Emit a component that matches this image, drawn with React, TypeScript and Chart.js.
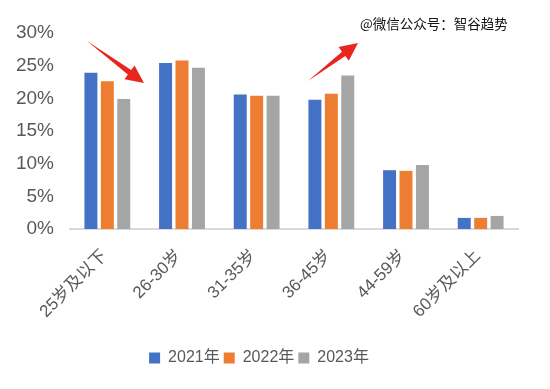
import React, { useEffect, useRef } from "react";
import { Chart, registerables } from "chart.js";

Chart.register(...registerables);

const categories = ["25岁及以下", "26-30岁", "31-35岁", "36-45岁", "44-59岁", "60岁及以上"];
const seriesLabels = ["2021年", "2022年", "2023年"];
const values2021 = [23.9, 25.4, 20.6, 19.8, 9.0, 1.7];
const values2022 = [22.6, 25.8, 20.4, 20.7, 8.9, 1.7];
const values2023 = [19.9, 24.7, 20.4, 23.5, 9.8, 2.0];
const seriesColors = ["#4472C4", "#ED7D31", "#A5A5A5"];
const watermark = "@微信公众号：智谷趋势";

const FONT = "'Liberation Sans', 'Noto Sans CJK SC', sans-serif";
const TEXT = "#595959";

function drawArrow(ctx: CanvasRenderingContext2D, tx: number, ty: number, hx: number, hy: number) {
  const dx = hx - tx;
  const dy = hy - ty;
  const len = Math.sqrt(dx * dx + dy * dy);
  const ux = dx / len;
  const uy = dy / len;
  const px = -uy;
  const py = ux;
  const headLen = 18;
  const headW = 8.5;
  const shaftW = 2.8;
  const bx = hx - ux * headLen;
  const by = hy - uy * headLen;
  ctx.save();
  ctx.fillStyle = "#E8261E";
  ctx.beginPath();
  ctx.moveTo(tx, ty);
  ctx.lineTo(bx + px * shaftW, by + py * shaftW);
  ctx.lineTo(bx + px * headW, by + py * headW);
  ctx.lineTo(hx, hy);
  ctx.lineTo(bx - px * headW, by - py * headW);
  ctx.lineTo(bx - px * shaftW, by - py * shaftW);
  ctx.closePath();
  ctx.fill();
  ctx.restore();
}

const annotationPlugin = {
  id: "annotations",
  afterDraw(chart: any) {
    const ctx = chart.ctx as CanvasRenderingContext2D;
    drawArrow(ctx, 87, 41, 144, 83);
    drawArrow(ctx, 308, 81, 358, 43);
    ctx.save();
    ctx.font = "13.5px 'Noto Sans CJK SC', sans-serif";
    ctx.textBaseline = "middle";
    ctx.textAlign = "left";
    ctx.lineWidth = 3;
    ctx.strokeStyle = "#ffffff";
    ctx.strokeText(watermark, 360, 24);
    ctx.fillStyle = "#111111";
    ctx.fillText(watermark, 360, 24);
    ctx.restore();
  },
};

export default function App() {
  const ref = useRef<HTMLCanvasElement>(null);
  useEffect(() => {
    document.body.style.margin = "0";
    if (!ref.current) return;
    const chart = new Chart(ref.current, {
      type: "bar",
      data: {
        labels: categories,
        datasets: [values2021, values2022, values2023].map((d, i) => ({
          label: seriesLabels[i],
          data: d,
          backgroundColor: seriesColors[i],
          borderWidth: 0,
          categoryPercentage: 0.66,
          barPercentage: 0.79,
        })),
      },
      options: {
        animation: false,
        responsive: false,
        maintainAspectRatio: false,
        layout: { padding: { top: 33, right: 32, bottom: 13, left: 0 } },
        plugins: {
          tooltip: { enabled: false },
          legend: {
            position: "bottom",
            labels: {
              boxWidth: 11,
              boxHeight: 11,
              padding: 4,
              color: TEXT,
              font: { family: FONT, size: 16 },
            },
          },
        },
        scales: {
          x: {
            grid: { display: false, drawTicks: false },
            border: { display: true, color: "#D9D9D9", width: 2 },
            ticks: {
              color: TEXT,
              font: { family: FONT, size: 17 },
              minRotation: 45,
              maxRotation: 45,
              padding: 17,
              labelOffset: -3,
              autoSkip: false,
            },
            afterFit(scale: any) {
              scale.height = 117;
            },
          },
          y: {
            min: 0,
            max: 30,
            grid: { display: false, drawTicks: false },
            border: { display: false },
            ticks: {
              stepSize: 5,
              color: TEXT,
              font: { family: FONT, size: 19 },
              padding: 16,
              callback: (v: any) => v + "%",
            },
            afterFit(scale: any) {
              scale.width = 70;
            },
          },
        },
      },
      plugins: [annotationPlugin],
    });
    return () => chart.destroy();
  }, []);
  return (
    <div style={{ width: 550, height: 389, background: "#fff" }}>
      <canvas ref={ref} width={550} height={389} style={{ display: "block" }} />
    </div>
  );
}
